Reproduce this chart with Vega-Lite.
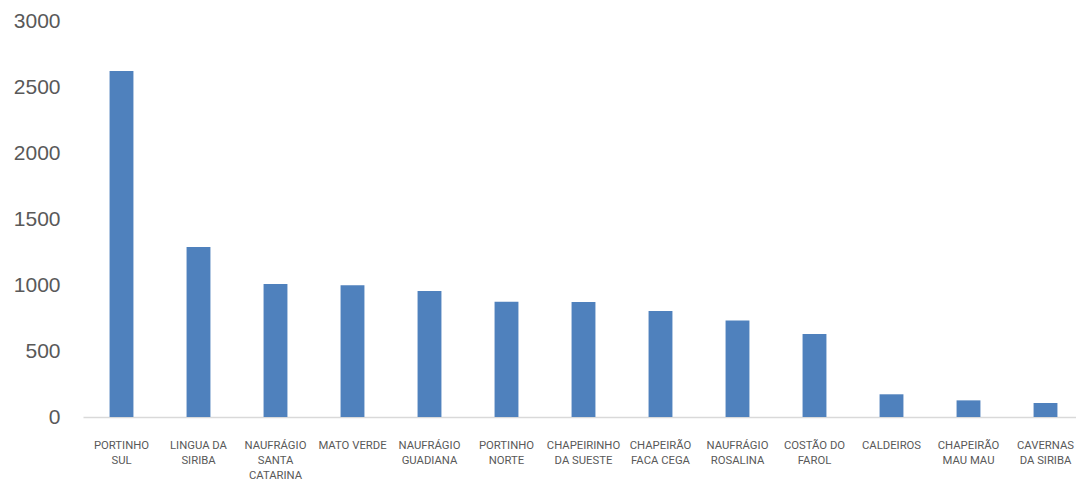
{
  "$schema": "https://vega.github.io/schema/vega-lite/v6.json",
  "width": 1001,
  "height": 396,
  "autosize": {"type": "none"},
  "padding": {"left": 83, "top": 21, "right": 0, "bottom": 65},
  "background": "white",
  "config": {"view": {"stroke": null}},
  "data": {
    "values": [
      {"local": "PORTINHO SUL", "valor": 2621},
      {"local": "LINGUA DA SIRIBA", "valor": 1288},
      {"local": "NAUFRÁGIO SANTA CATARINA", "valor": 1008},
      {"local": "MATO VERDE", "valor": 998},
      {"local": "NAUFRÁGIO GUADIANA", "valor": 955},
      {"local": "PORTINHO NORTE", "valor": 873},
      {"local": "CHAPEIRINHO DA SUESTE", "valor": 871},
      {"local": "CHAPEIRÃO FACA CEGA", "valor": 803},
      {"local": "NAUFRÁGIO ROSALINA", "valor": 732},
      {"local": "COSTÃO DO FAROL", "valor": 629},
      {"local": "CALDEIROS", "valor": 172},
      {"local": "CHAPEIRÃO MAU MAU", "valor": 126},
      {"local": "CAVERNAS DA SIRIBA", "valor": 106}
    ]
  },
  "mark": {"type": "bar", "color": "#4F81BD"},
  "encoding": {
    "x": {
      "field": "local",
      "type": "nominal",
      "sort": null,
      "scale": {"paddingInner": 0.69, "paddingOuter": 0.345},
      "axis": {
        "title": null,
        "labelAngle": 0,
        "ticks": false,
        "domain": true,
        "domainColor": "#D9D9D9",
        "domainWidth": 1.5,
        "labelPadding": 22,
        "labelFont": "Roboto",
        "labelFontSize": 11.3,
        "labelColor": "#595959",
        "labelLineHeight": 15,
        "labelLimit": 0,
        "labelOverlap": false,
        "labelExpr": "datum.value == 'PORTINHO SUL' ? ['PORTINHO','SUL'] : datum.value == 'LINGUA DA SIRIBA' ? ['LINGUA DA','SIRIBA'] : datum.value == 'NAUFRÁGIO SANTA CATARINA' ? ['NAUFRÁGIO','SANTA','CATARINA'] : datum.value == 'NAUFRÁGIO GUADIANA' ? ['NAUFRÁGIO','GUADIANA'] : datum.value == 'PORTINHO NORTE' ? ['PORTINHO','NORTE'] : datum.value == 'CHAPEIRINHO DA SUESTE' ? ['CHAPEIRINHO','DA SUESTE'] : datum.value == 'CHAPEIRÃO FACA CEGA' ? ['CHAPEIRÃO','FACA CEGA'] : datum.value == 'NAUFRÁGIO ROSALINA' ? ['NAUFRÁGIO','ROSALINA'] : datum.value == 'COSTÃO DO FAROL' ? ['COSTÃO DO','FAROL'] : datum.value == 'CHAPEIRÃO MAU MAU' ? ['CHAPEIRÃO','MAU MAU'] : datum.value == 'CAVERNAS DA SIRIBA' ? ['CAVERNAS','DA SIRIBA'] : datum.value"
      }
    },
    "y": {
      "field": "valor",
      "type": "quantitative",
      "scale": {"domain": [0, 3000], "nice": false},
      "axis": {
        "title": null,
        "values": [0, 500, 1000, 1500, 2000, 2500, 3000],
        "format": "d",
        "grid": false,
        "ticks": false,
        "domain": false,
        "labelPadding": 23,
        "labelFont": "Liberation Sans",
        "labelFontSize": 21,
        "labelColor": "#595959"
      }
    }
  }
}
